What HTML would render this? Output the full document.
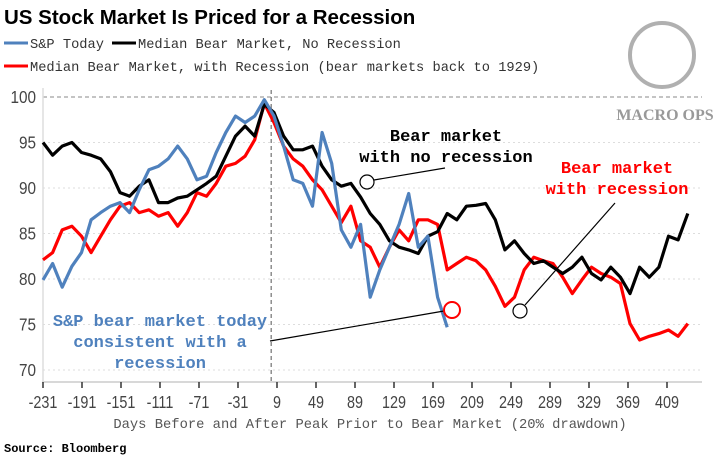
<!DOCTYPE html>
<html><head><meta charset="utf-8"><style>
body{margin:0;background:#fff;width:720px;height:463px;overflow:hidden}
svg{display:block}
.mono{font-family:"Liberation Mono","DejaVu Sans Mono",monospace}
.tick{font-family:"Liberation Sans",sans-serif;font-size:18px;fill:#444}
</style></head><body>
<svg id="chart" width="720" height="463" viewBox="0 0 720 463" xmlns="http://www.w3.org/2000/svg">
<text x="4" y="24" font-family="Liberation Sans, sans-serif" font-weight="bold" font-size="20.5" fill="#000">US Stock Market Is Priced for a Recession</text>
<g class="mono" font-size="13.7" fill="#333">
 <g><line x1="4" y1="43" x2="28" y2="43" stroke="#4f81bd" stroke-width="3"/><text x="30" y="48">S&amp;P Today</text></g>
 <g><line x1="112" y1="43" x2="136" y2="43" stroke="#000" stroke-width="3"/><text x="138" y="48">Median Bear Market, No Recession</text></g>
 <g><line x1="4" y1="66" x2="28" y2="66" stroke="#f00" stroke-width="3"/><text x="30" y="71">Median Bear Market, with Recession (bear markets back to 1929)</text></g>
</g>
<g>
 <circle cx="662" cy="55" r="32" fill="none" stroke="#b0b0b0" stroke-width="4"/>
 <text x="665" y="120" text-anchor="middle" font-family="Liberation Serif, serif" font-weight="bold" font-size="16" fill="#999">MACRO OPS</text>
</g>
<g id="grid"></g>
<g id="axes"></g>
<g id="series"></g>
<g class="mono" font-weight="bold" font-size="17" text-anchor="middle">
 <text fill="#000"><tspan x="446" y="141">Bear market</tspan><tspan x="446" y="162">with no recession</tspan></text>
 <line x1="374" y1="180" x2="445" y2="168" stroke="#000" stroke-width="1.2"/>
 <circle cx="367" cy="182" r="7" fill="none" stroke="#000" stroke-width="1.2"/>
 <text fill="#f00"><tspan x="617" y="173">Bear market</tspan><tspan x="617" y="194">with recession</tspan></text>
 <line x1="525" y1="305" x2="615" y2="203" stroke="#000" stroke-width="1.2"/>
 <circle cx="520" cy="311" r="7" fill="none" stroke="#000" stroke-width="1.2"/>
 <text fill="#4f81bd"><tspan x="160" y="326">S&amp;P bear market today</tspan><tspan x="160" y="347">consistent with a</tspan><tspan x="160" y="368">recession</tspan></text>
 <line x1="270" y1="341" x2="444" y2="311" stroke="#000" stroke-width="1.2"/>
 <circle cx="452" cy="310" r="8" fill="none" stroke="#f00" stroke-width="2"/>
</g>
<text x="370" y="428" text-anchor="middle" class="mono" font-size="13.8" fill="#555">Days Before and After Peak Prior to Bear Market (20% drawdown)</text>
<text x="4" y="452" class="mono" font-weight="bold" font-size="12" fill="#000">Source: Bloomberg</text>
</svg>
<script>
const xTicks=[-231,-191,-151,-111,-71,-31,9,49,89,129,169,209,249,289,329,369,409];
const yTicks=[70,75,80,85,90,95,100];
const blackValues=[95,93.6,94.6,95,93.9,93.6,93.2,91.8,89.5,89.1,90.2,90.9,88.4,88.4,88.9,89.1,89.8,90.5,91.3,93.5,95.7,96.8,95.7,99.2,98.3,95.7,94.2,94.2,94.6,92.4,90.9,90.2,90.5,89,87.2,86,84.2,83.5,83.2,82.8,84.7,85.2,87.2,86.5,88,88.1,88.3,86.5,83.2,84.2,82.8,81.7,82,81.3,80.6,81.3,82.4,80.6,79.9,81.3,80.2,78.4,81.3,80.2,81.3,84.7,84.3,87.2];
const redValues=[82.1,82.9,85.4,85.8,84.7,82.9,84.7,86.5,88,88.4,87.3,87.6,86.9,87.3,85.8,87.3,89.5,89.1,90.5,92.4,92.7,93.5,95.3,99.3,97.2,94.6,93.2,92.4,90.9,89.8,88,86.2,88,84.2,83.5,81.3,83.5,85.4,84.2,86.5,86.5,86,81,81.7,82.4,82,81,79.2,77,78,81,82.4,82,81.7,80.2,78.4,79.9,81.3,80.6,80.2,79.5,75.1,73.3,73.7,74,74.4,73.7,75.1];
const blueValues=[79.9,81.7,79.1,81.4,82.9,86.5,87.3,88,88.4,87.3,89.8,92,92.4,93.2,94.6,93.2,90.9,91.3,93.9,96.1,97.9,97.2,97.9,99.7,97.9,94.6,90.9,90.5,88,96.1,92.7,85.4,83.5,86,78,81,83.5,86,89.4,83.5,84.7,78,74.7];
const dayStart=-231, dayStep=9.87;
const x=d=>43+(d+231)*0.975;
const y=v=>97+(100-v)*9.1;
const NS='http://www.w3.org/2000/svg';
function mk(tag,attrs,parent){const e=document.createElementNS(NS,tag);for(const k in attrs)e.setAttribute(k,attrs[k]);parent.appendChild(e);return e;}
const grid=document.getElementById('grid'),axes=document.getElementById('axes'),series=document.getElementById('series');
yTicks.forEach(v=>{
 const l=mk('line',{x1:43,x2:702,y1:y(v),y2:y(v),stroke:v===100?'#888':'#ddd','stroke-width':1,'stroke-dasharray':v===100?'4,3':'2,3'},grid);
 
 
 const t=mk('text',{transform:'translate(36,'+(y(v)+6)+') scale(0.85,1)','text-anchor':'end',class:'tick'},axes);
 t.textContent=v;
 
 
});
const peak=mk('line',{x1:x(3),x2:x(3),y1:90,y2:382,stroke:'#555','stroke-dasharray':'4,3','stroke-width':1},grid);


const xa=mk('line',{x1:42,x2:702,y1:382,y2:382,stroke:'#ccc','stroke-width':1.5},axes);


const ya=mk('line',{x1:43,x2:43,y1:88,y2:382,stroke:'#ddd','stroke-width':1.5},axes);


xTicks.forEach(d=>{
 const tk=mk('line',{x1:x(d),x2:x(d),y1:382,y2:388,stroke:'#333','stroke-width':1.5},axes);
 
 
 const t=mk('text',{transform:'translate('+x(d)+',408) scale(0.8,1)','text-anchor':'middle',class:'tick'},axes);
 t.textContent=d;
 
 
});
function draw(vals,color,name){
 const pts=vals.map((v,i)=>x(dayStart+i*dayStep).toFixed(1)+','+y(v).toFixed(1)).join(' ');
 const p=mk('polyline',{points:pts,fill:'none',stroke:color,'stroke-width':3.2,'stroke-linejoin':'round'},series);
 
 
}
draw(redValues,'#f00','series-with-recession');
draw(blackValues,'#000','series-no-recession');
draw(blueValues,'#4f81bd','series-sp-today');
</script>
</body></html>
